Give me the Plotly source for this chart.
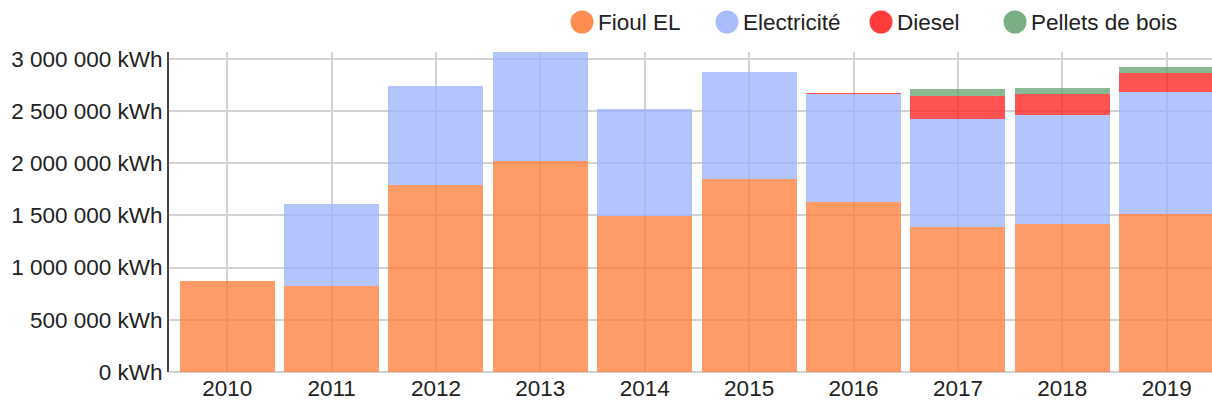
import plotly.graph_objects as go

years = ["2010", "2011", "2012", "2013", "2014", "2015", "2016", "2017", "2018", "2019"]
fioul = [871000, 822000, 1791000, 2021000, 1494000, 1846000, 1630000, 1385000, 1417000, 1510000]
electricite = [0, 787000, 950000, 1046000, 1026000, 1030000, 1034000, 1039000, 1046000, 1167000]
diesel = [0, 0, 0, 0, 0, 0, 7000, 214000, 195000, 182000]
pellets = [0, 0, 0, 0, 0, 0, 0, 67000, 64000, 64000]

series_names = ["Fioul EL", "Electricité", "Diesel", "Pellets de bois"]
series_values = [fioul, electricite, diesel, pellets]
series_colors = ["#FF7933", "#9BB0FC", "#FF1A1A", "#63A06E"]

W, H = 1212, 404
ML, MR, MT, MB = 169, 0, 52, 32
PW, PH = W - ML - MR, H - MT - MB
FS = 22.5

fig = go.Figure()
for name, vals, col in zip(series_names, series_values, series_colors):
    fig.add_trace(go.Bar(
        x=years, y=vals, name=name,
        marker=dict(color=col, opacity=0.75, line=dict(width=0)),
        showlegend=False,
    ))

# custom legend (large circles + labels) placed above the plot, in window pixels
legend_cx = [582, 727, 881, 1015]
legend_cy = 22
r = 11.5
def px_to_paper_x(px):
    return (px - ML) / PW
def px_to_paper_y(py):
    return 1 - (py - MT) / PH

shapes = []
annotations = []
for name, col, cx in zip(series_names, series_colors, legend_cx):
    shapes.append(dict(
        type="circle", xref="paper", yref="paper",
        x0=px_to_paper_x(cx - r), x1=px_to_paper_x(cx + r),
        y0=px_to_paper_y(legend_cy + r), y1=px_to_paper_y(legend_cy - r),
        fillcolor=col, opacity=0.85, line=dict(width=0),
    ))
    annotations.append(dict(
        text=name, xref="paper", yref="paper",
        x=px_to_paper_x(cx + r + 2), y=px_to_paper_y(legend_cy),
        xanchor="left", yanchor="middle", showarrow=False,
        font=dict(size=FS, color="#222"),
    ))

fig.update_layout(
    width=W, height=H,
    margin=dict(l=ML, r=MR, t=MT, b=MB, autoexpand=False),
    barmode="stack", bargap=0.09,
    plot_bgcolor="white", paper_bgcolor="white",
    separators=", ",
    showlegend=False,
    font=dict(family="Liberation Sans, Arial, sans-serif", size=FS, color="#222"),
    shapes=shapes,
    annotations=annotations,
    xaxis=dict(type="category", range=[-0.5575, 9.434], showgrid=True,
               gridcolor="#d3d3d3", gridwidth=2, showline=False, ticks="",
               tickfont=dict(size=FS, color="#222"), automargin=False),
    yaxis=dict(range=[0, 3064000], dtick=500000, tickformat=",d", ticksuffix=" kWh",
               showgrid=True, gridcolor="#d3d3d3", gridwidth=2,
               zeroline=True, zerolinecolor="#d3d3d3", zerolinewidth=2,
               showline=True, linecolor="#444", linewidth=2, ticks="",
               tickfont=dict(size=FS, color="#222"), automargin=False),
)

fig.write_html(
    "out.html",
    config={"displayModeBar": False},
    post_script="document.body.style.margin='0';document.body.style.overflow='hidden';",
)
